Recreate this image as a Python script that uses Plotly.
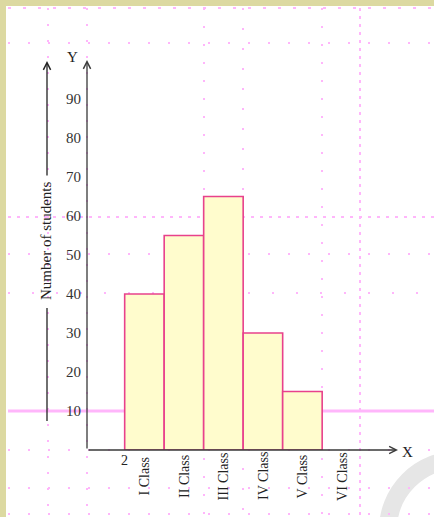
import plotly.graph_objects as go

# ---- data ----
classes = ["I Class", "II Class", "III Class", "IV Class", "V Class", "VI Class"]
students = [40, 55, 65, 30, 15]
yticks = [10, 20, 30, 40, 50, 60, 70, 80, 90]
y_title = "Number of students"

W, H = 434, 517
L, R, T, B = 87, 36, 60, 67
PW, PH = W - L - R, H - T - B

def px(x):
    return (x - L) / PW

def py(y):
    return (H - B - y) / PH

FONT = "Liberation Serif, Times New Roman, serif"
PINK = "#ffb6fb"
AX = "#3a3a3a"
TXT = "#222"
BEIGE = "#dcd9a1"

fig = go.Figure()
fig.add_trace(go.Bar(
    x=[i + 1.5 for i in range(len(students))],
    y=students,
    width=1,
    marker=dict(color="#fffccd", line=dict(color="#e8418c", width=1.6)),
    hoverinfo="skip",
))

shapes = []
# page border strips
shapes.append(dict(type="rect", xref="paper", yref="paper", x0=px(0), x1=px(6), y0=py(0), y1=py(H),
                   fillcolor=BEIGE, line=dict(width=0), layer="above"))
shapes.append(dict(type="rect", xref="paper", yref="paper", x0=px(0), x1=px(W), y0=py(0), y1=py(6),
                   fillcolor=BEIGE, line=dict(width=0), layer="above"))
# watermark arc
shapes.append(dict(type="circle", xref="paper", yref="paper", x0=px(388), x1=px(528), y0=py(600), y1=py(460),
                   line=dict(color="#e6e6e6", width=18), layer="below"))
# dotted background grid of the scanned page
for xv, d in [(48, "2px,14px"), (87, "2px,14px"), (204, "2px,16px"), (243, "2px,18px"), (322, "2px,16px"), (360, "3px,5px")]:
    shapes.append(dict(type="line", xref="paper", yref="paper", x0=px(xv), x1=px(xv), y0=py(8), y1=py(H),
                       line=dict(color=PINK, width=2, dash=d), layer="below"))
for yv, d in [(8, "3px,12px"), (43, "2px,18px"), (217, "3px,6px"), (254, "2px,18px"), (293, "2px,22px"), (450, "2px,18px"), (488, "2px,18px"), (514, "2px,18px")]:
    shapes.append(dict(type="line", xref="paper", yref="paper", x0=px(8), x1=px(W), y0=py(yv), y1=py(yv),
                       line=dict(color=PINK, width=2, dash=d), layer="below"))
# solid pink line at 10
shapes.append(dict(type="line", xref="paper", yref="y", x0=px(8), x1=px(W), y0=10, y1=10,
                   line=dict(color=PINK, width=3), layer="below"))
# lower part of y-title line
shapes.append(dict(type="line", xref="paper", yref="paper", x0=px(47), x1=px(47), y0=py(308), y1=py(421),
                   line=dict(color=TXT, width=1.3)))

ann = []
# axes with arrows
ann.append(dict(x=0.046, y=100, xref="x", yref="y", ax=0, ay=PH, axref="pixel", ayref="pixel",
                showarrow=True, arrowhead=5, arrowsize=1.1, arrowwidth=1.3, arrowcolor=AX, text=""))
ann.append(dict(x=7.92, y=0, xref="x", yref="y", ax=-PW, ay=0, axref="pixel", ayref="pixel",
                showarrow=True, arrowhead=5, arrowsize=1.1, arrowwidth=1.3, arrowcolor=AX, text=""))
# y-title arrow line
ann.append(dict(x=px(47), y=py(61), xref="paper", yref="paper", ax=0, ay=116,
                showarrow=True, arrowhead=5, arrowsize=1.1, arrowwidth=1.3, arrowcolor=TXT, text=""))

def label(x, y, text, xref="paper", angle=0, size=15):
    ann.append(dict(x=x, y=y, xref=xref, yref="paper", text=text, textangle=angle,
                    xanchor="center", yanchor="middle", showarrow=False,
                    font=dict(family=FONT, size=size, color=TXT)))

label(px(46), py(241), y_title, angle=-90, size=15)
label(px(72), py(57), "Y")
label(px(407), py(452), "X")
label(1.0, py(461), "2", xref="x", size=14)
for i, c in enumerate(classes):
    label(i + 1.5, py(476), c, xref="x", angle=-90, size=14)

fig.update_layout(
    width=W, height=H,
    margin=dict(l=L, r=R, t=T, b=B, pad=0),
    paper_bgcolor="white", plot_bgcolor="rgba(0,0,0,0)",
    showlegend=False,
    shapes=shapes,
    annotations=ann,
    xaxis=dict(range=[0.046, 7.92], showgrid=False, zeroline=False, showline=False,
               showticklabels=False, ticks=""),
    yaxis=dict(range=[0, 100], tickvals=yticks, ticktext=[str(v) for v in yticks],
               showgrid=False, zeroline=False, showline=False, ticks="",
               ticklabelstandoff=5,
               tickfont=dict(family=FONT, size=15, color="#333")),
)

fig.write_html("out.html", config={"displayModeBar": False},
               post_script="document.body.style.margin='0px';")
